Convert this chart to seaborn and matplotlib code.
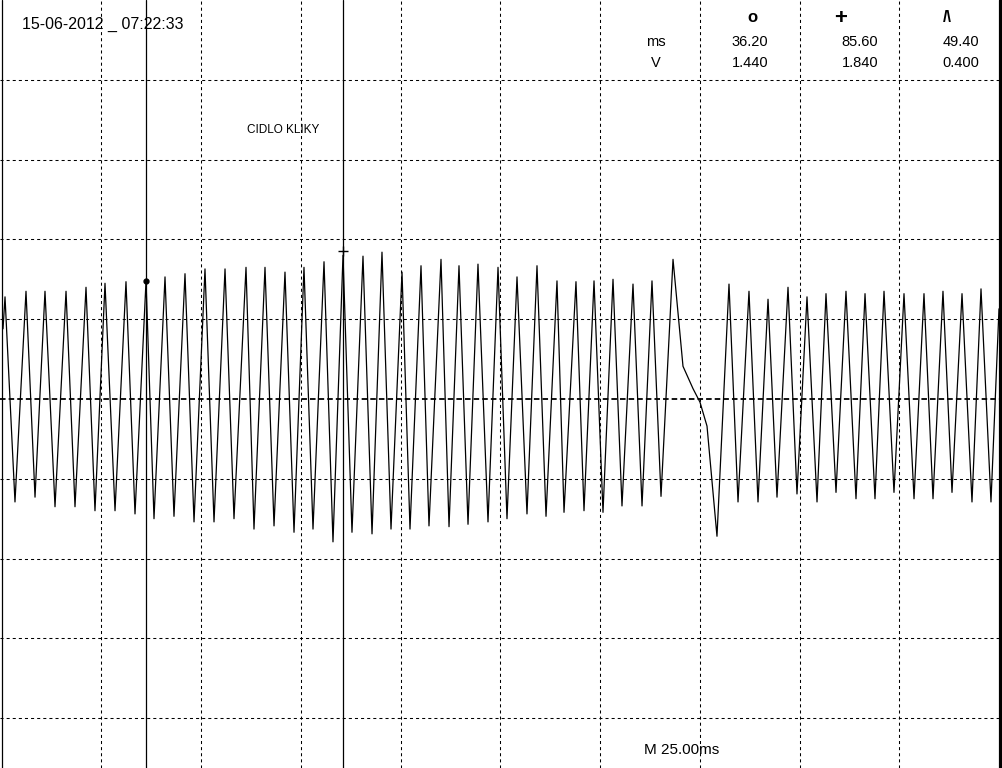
"""Oscilloscope capture of the crank sensor (CIDLO KLIKY) redrawn with seaborn."""
import matplotlib
matplotlib.use("Agg")
import matplotlib.pyplot as plt
import pandas as pd
import seaborn as sns

# Trace: time in ms (25 ms/div), level in divisions
# from the centre line. Mostly peak/trough turning points of the teeth.
t_ms = [
    0.38, 0.88, 3.38, 6.14, 8.40, 10.90, 13.41, 16.17, 18.42, 21.18,
    23.43, 25.94, 28.45, 31.20, 33.46, 36.22, 38.22, 40.98, 43.23, 45.99,
    48.25, 51.00, 53.26, 56.02, 58.27, 61.28, 63.28, 66.04, 68.30, 71.05,
    73.31, 75.81, 78.07, 80.83, 83.08, 85.59, 87.84, 90.60, 92.86, 95.36,
    97.62, 100.38, 102.38, 105.14, 107.14, 110.15, 112.16, 114.66, 116.92, 119.42,
    121.93, 124.44, 126.69, 129.20, 131.70, 134.21, 136.47, 139.22, 140.98, 143.98,
    145.99, 148.50, 150.75, 153.26, 155.51, 158.27, 160.53, 163.03, 165.29, 168.30,
    170.80, 173.31, 175.06, 176.82, 179.32, 182.33, 184.59, 187.34, 189.60, 192.11,
    194.36, 197.12, 199.37, 201.88, 204.39, 206.64, 209.15, 211.65, 214.16, 216.42,
    218.92, 221.18, 223.68, 226.19, 228.70, 231.20, 233.46, 235.96, 238.22, 240.73,
    243.23, 245.49, 247.99, 250.00,
]
v_div = [
    0.88, 1.28, -1.29, 1.35, -1.23, 1.35, -1.35, 1.35, -1.35, 1.40,
    -1.40, 1.45, -1.40, 1.47, -1.44, 1.48, -1.50, 1.53, -1.47, 1.57,
    -1.54, 1.63, -1.54, 1.63, -1.50, 1.65, -1.63, 1.65, -1.59, 1.59,
    -1.67, 1.65, -1.63, 1.72, -1.79, 1.80, -1.67, 1.79, -1.69, 1.84,
    -1.63, 1.59, -1.63, 1.67, -1.59, 1.75, -1.60, 1.67, -1.57, 1.69,
    -1.54, 1.65, -1.50, 1.53, -1.44, 1.67, -1.47, 1.48, -1.42, 1.47,
    -1.40, 1.48, -1.42, 1.50, -1.34, 1.44, -1.34, 1.48, -1.22, 1.75,
    0.41, 0.13, -0.04, -0.34, -1.72, 1.44, -1.29, 1.35, -1.29, 1.25,
    -1.23, 1.40, -1.19, 1.28, -1.29, 1.32, -1.17, 1.35, -1.25, 1.32,
    -1.25, 1.35, -1.17, 1.32, -1.25, 1.32, -1.25, 1.35, -1.17, 1.32,
    -1.29, 1.38, -1.29, 1.13,
]

# Cursor readout
cursor_names = ["o", "+", "/\\"]
cursor_ms = [36.20, 85.60, 49.40]
cursor_volts = [1.440, 1.840, 0.400]
cursor_marks = [1.48, 1.86]          # where the cursor markers sit on the trace

timestamp = "15-06-2012 _ 07:22:33"
channel_label = "CIDLO KLIKY"
timebase = "M 25.00ms"

MS_PER_DIV = 25.0
N_XDIV = 10

W, H, DPI = 1002, 768, 100
sns.set_theme(style="white")
plt.rcParams["font.family"] = ["Liberation Sans", "DejaVu Sans"]
plt.rcParams["lines.scale_dashes"] = False

fig = plt.figure(figsize=(W / DPI, H / DPI), dpi=DPI, facecolor="white")
ax = fig.add_axes([0, 0, 1, 1])
ax.set_facecolor("white")
for sp in ax.spines.values():
    sp.set_visible(False)
ax.set_xticks([])
ax.set_yticks([])

px = 1.0 / 3.99      # ms per pixel
ax.set_xlim(-1.5 * px, 250 + 3 * px)
ax.set_ylim(5.0 - H / 79.8, 5.0)

short_dash = (0, (2.2, 2.2))
for i in range(1, N_XDIV):
    ax.axvline(i * MS_PER_DIV, color="black", lw=0.75, ls=short_dash, zorder=1)
for d in [4, 3, 2, 1, -1, -2, -3, -4]:
    ax.axhline(d, color="black", lw=0.75, ls=short_dash, zorder=1)
ax.axhline(0, color="black", lw=1.3, ls=(0, (4.0, 2.2)), zorder=1)

# screen borders
ax.axvline(0.1, color="black", lw=0.9, zorder=3)
ax.axvline(250.25, color="black", lw=2.3, zorder=3)

# cursor lines
for c in cursor_ms[:2]:
    ax.axvline(c, color="black", lw=0.9, zorder=3)

df = pd.DataFrame({"t": t_ms, "v": v_div})
sns.lineplot(data=df, x="t", y="v", sort=False, estimator=None,
             color="black", lw=0.9, ax=ax, zorder=4)
ax.set_xlabel("")
ax.set_ylabel("")

ax.plot(cursor_ms[0], cursor_marks[0], "o", color="black", ms=3.5, zorder=5)
ax.plot(cursor_ms[1], cursor_marks[1], "+", color="black", ms=7, mew=1.0, zorder=5)


def put(x, y, s, **kw):
    fig.text(x / W, 1 - y / H, s, color="black", **kw)


put(22, 24, timestamp, fontsize=11.5, ha="left", va="center")
put(283, 130, channel_label, fontsize=8.5, ha="center", va="center")
put(682, 750, timebase, fontsize=11, ha="center", va="center")

head_x = [752, 841, 947]
head_size = [12, 16, 11.5]
for x, name, fs in zip(head_x, cursor_names, head_size):
    put(x, 18, name, fontsize=fs, fontweight="bold", ha="center", va="center")
put(656, 42, "ms", fontsize=10.5, ha="center", va="center")
put(656, 63, "V", fontsize=10.5, ha="center", va="center")
val_x = [750, 860, 961]
for x, ms, v in zip(val_x, cursor_ms, cursor_volts):
    put(x, 42, f"{ms:.2f}", fontsize=10.5, ha="center", va="center")
    put(x, 63, f"{v:.3f}", fontsize=10.5, ha="center", va="center")

fig.savefig("out.png", dpi=DPI, facecolor="white")
plt.close(fig)
